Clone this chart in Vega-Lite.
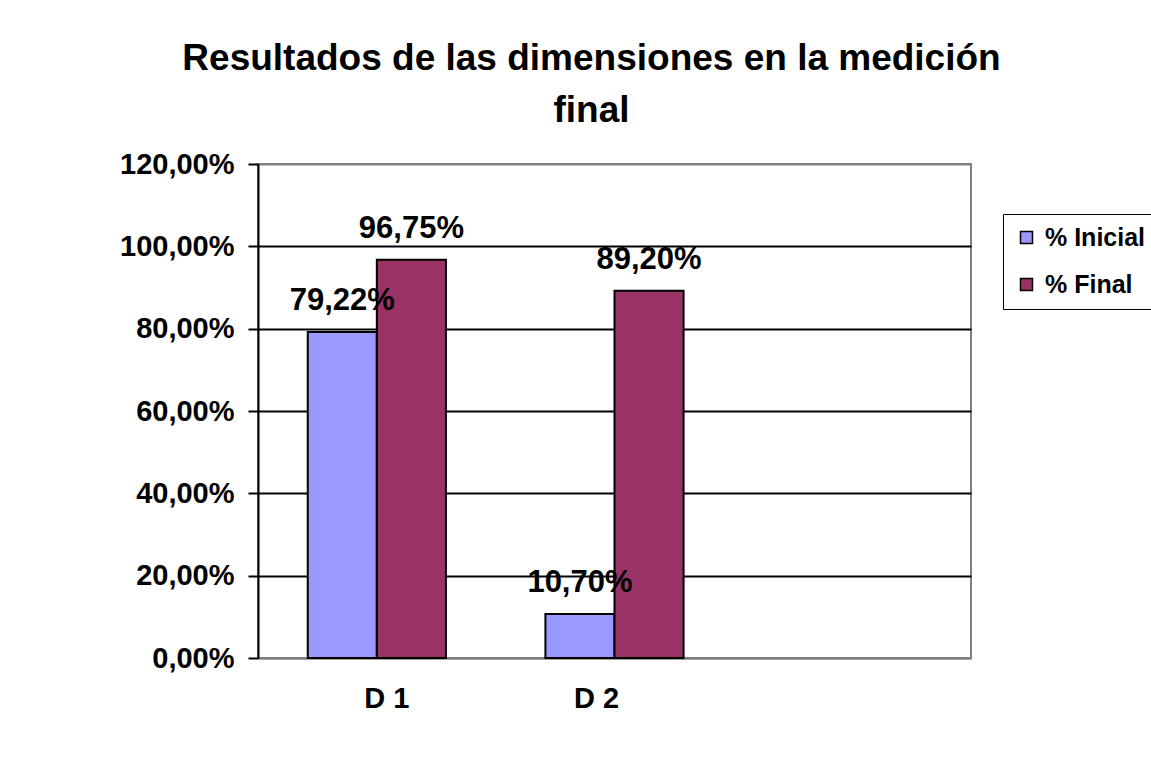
{
  "$schema": "https://vega.github.io/schema/vega-lite/v6.json",
  "autosize": {"type": "none"},
  "width": 713,
  "height": 494,
  "padding": {"left": 258, "top": 164, "right": 180, "bottom": 100},
  "background": "white",
  "title": {
    "text": ["Resultados de las dimensiones en la medición", "final"],
    "font": "Liberation Sans",
    "fontSize": 37,
    "fontWeight": "bold",
    "color": "black",
    "anchor": "middle",
    "frame": "group",
    "dx": -23,
    "lineHeight": 52,
    "offset": 20
  },
  "data": {
    "values": [
      {"dim": "D 1", "serie": "% Inicial", "valor": 0.7922},
      {"dim": "D 1", "serie": "% Final", "valor": 0.9675},
      {"dim": "D 2", "serie": "% Inicial", "valor": 0.107},
      {"dim": "D 2", "serie": "% Final", "valor": 0.892}
    ]
  },
  "encoding": {
    "x": {
      "field": "dim",
      "type": "nominal",
      "scale": {"domain": ["D 1", "D 2", " "], "paddingInner": 0, "paddingOuter": 0},
      "axis": {
        "title": null,
        "labelAngle": 0,
        "labelFont": "Liberation Sans",
        "labelFontSize": 29,
        "labelFontWeight": "bold",
        "labelColor": "black",
        "labelPadding": 26,
        "labelOffset": {"condition": {"test": "datum.value === 'D 1'", "value": 10}, "value": -18},
        "ticks": false,
        "domainColor": "#808080",
        "domainWidth": 2
      }
    },
    "xOffset": {
      "field": "serie",
      "type": "nominal",
      "scale": {"domain": ["% Inicial", "% Final"], "paddingInner": 0, "paddingOuter": 0.72}
    },
    "y": {
      "field": "valor",
      "type": "quantitative",
      "scale": {"domain": [0, 1.2], "nice": false},
      "axis": {
        "title": null,
        "values": [0, 0.2, 0.4, 0.6, 0.8, 1.0, 1.2],
        "format": ".2%",
        "labelFont": "Liberation Sans",
        "labelFontSize": 29,
        "labelFontWeight": "bold",
        "labelColor": "black",
        "labelPadding": 14,
        "tickSize": 10,
        "tickColor": "black",
        "tickWidth": 2,
        "domainColor": "black",
        "domainWidth": 2,
        "grid": true,
        "gridColor": {"condition": {"test": "datum.value === 0 || datum.value >= 1.2", "value": "#808080"}, "value": "black"},
        "gridWidth": 2
      }
    }
  },
  "layer": [
    {
      "mark": {"type": "bar", "stroke": "black", "strokeWidth": 2},
      "encoding": {
        "color": {
          "field": "serie",
          "type": "nominal",
          "scale": {"domain": ["% Inicial", "% Final"], "range": ["#9999FF", "#993366"]},
          "legend": {
            "title": null,
            "orient": "none",
            "legendX": 745,
            "legendY": 50,
            "strokeColor": "black",
            "fillColor": "white",
            "padding": 11,
            "symbolType": "square",
            "symbolSize": 144,
            "symbolStrokeColor": "black",
            "symbolStrokeWidth": 1.5,
            "labelFont": "Liberation Sans",
            "labelFontSize": 25,
            "labelFontWeight": "bold",
            "labelColor": "black",
            "labelOffset": 6,
            "rowPadding": 21
          }
        }
      }
    },
    {
      "mark": {
        "type": "text",
        "font": "Liberation Sans",
        "fontSize": 31,
        "fontWeight": "bold",
        "color": "black",
        "baseline": "alphabetic",
        "dy": -22
      },
      "encoding": {
        "text": {"field": "valor", "type": "quantitative", "format": ".2%"}
      }
    }
  ],
  "config": {
    "locale": {"number": {"decimal": ",", "thousands": ".", "grouping": [3], "currency": ["", " €"]}},
    "view": {"stroke": "#808080", "strokeWidth": 2, "fill": "white"}
  }
}
